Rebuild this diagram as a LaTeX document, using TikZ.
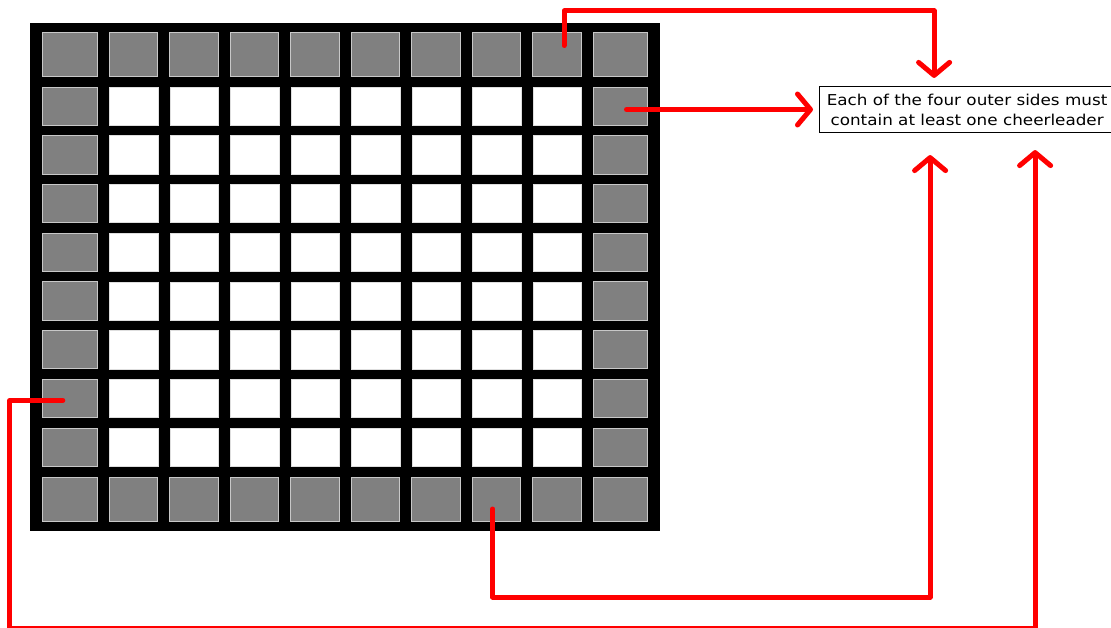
\documentclass[tikz,border=0pt]{standalone}
\usepackage{fontspec}
\setsansfont{DejaVu Sans}
\newfontfamily\notefont{DejaVu Sans}[FakeStretch=1.12]
\usepackage{xcolor}
\definecolor{cellgray}{RGB}{128, 128, 128}
\definecolor{celledge}{RGB}{200, 200, 200}
\definecolor{cheerred}{RGB}{255, 0, 0}
\usetikzlibrary{calc,positioning,arrows.meta}

\begin{document}
\begin{tikzpicture}[x=1pt, y=-1pt,
    outer/.style={fill=cellgray, draw=celledge, line width=0.8pt, inner sep=0pt, outer sep=0pt},
    inner/.style={fill=white, draw=celledge!60, line width=0.6pt, inner sep=0pt, outer sep=0pt},
    cheer/.style={cheerred, line width=5pt, line cap=round, line join=round,
        -{Straight Barb[length=13pt, width=31pt, round]}}]
    \fill[white] (0, 0) rectangle (1111, 628);
    \useasboundingbox (0, 0) rectangle (1111, 628);

    % The field: black frame with 10 x 10 cells
    \fill[black] (30, 22.7) rectangle (659.5, 530.5);
    \foreach \i/\cx/\cw in {1/69.8/55, 2/133.6/48.5, 3/194.1/48.5, 4/254.6/48.5, 5/315.1/48.5,
                            6/375.6/48.5, 7/436.1/48.5, 8/496.6/48.5, 9/557.1/48.5, 10/620.5/54.4} {
        \foreach \j/\cy/\ch in {1/54.5/44.4, 2/106.2/38.3, 3/154.9/38.3, 4/203.6/38.3, 5/252.3/38.3,
                                6/301/38.3, 7/349.7/38.3, 8/398.4/38.3, 9/447.1/38.3, 10/499/44} {
            \pgfmathsetmacro\onedge{(\i==1)||(\i==10)||(\j==1)||(\j==10)}
            \ifdim\onedge pt>0pt \def\cellsty{outer}\else\def\cellsty{inner}\fi
            \node[\cellsty, minimum width=\cw pt, minimum height=\ch pt] (c-\i-\j) at (\cx, \cy) {};
        }
    }

    % The rule
    \node[draw=black, line width=1.2pt, fill=white, anchor=west, minimum width=295pt,
          minimum height=46pt, inner sep=2pt, align=center,
          font=\notefont\fontsize{15}{20}\selectfont] (note) at (819, 109.5)
        {Each of the four outer sides must\\contain at least one cheerleader};

    % Arrows from one cell of each side
    \draw[cheer] ([xshift=7pt, yshift=9pt]c-9-1.center) |- ([xshift=-33pt, yshift=75pt]note.north)
        -- ([xshift=-33pt, yshift=8pt]note.north);
    \draw[cheer] ([xshift=6pt]c-10-2.center |- note.west) -- ([xshift=-6pt]note.west);
    \draw[cheer] ([xshift=-4pt, yshift=-10pt]c-8-10.center) |- ([xshift=-37pt, yshift=-464pt]note.south)
        -- ([xshift=-37pt, yshift=-22pt]note.south);
    \draw[cheer] ([xshift=-7pt, yshift=-2pt]c-1-8.center) -- ++(-53, 0)
        |- ([xshift=68pt, yshift=-495pt]note.south) -- ([xshift=68pt, yshift=-17pt]note.south);
\end{tikzpicture}
\end{document}
